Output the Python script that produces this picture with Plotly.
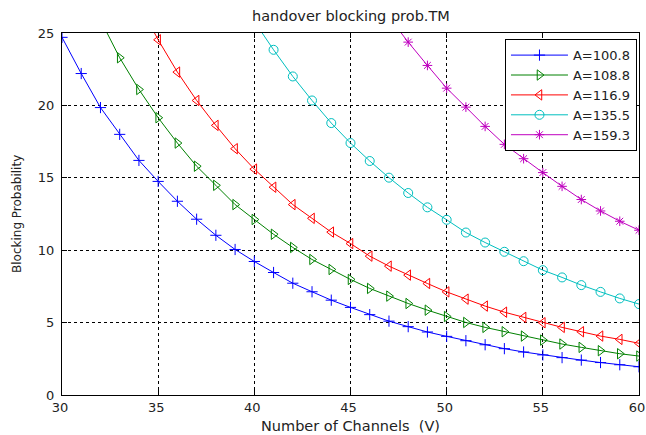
import plotly.graph_objects as go

channels = list(range(30, 61))

a1008 = [24.7, 22.2, 19.85, 18.0, 16.2, 14.75, 13.38, 12.14, 11.03, 10.05, 9.22,
         8.46, 7.72, 7.13, 6.55, 6.05, 5.55, 5.1, 4.72, 4.35, 4.05,
         3.75, 3.47, 3.2, 2.97, 2.77, 2.58, 2.41, 2.24, 2.09, 1.95]
a1088 = [None, None, 25.9, 23.29, 21.1, 19.15, 17.4, 15.8, 14.48, 13.15, 12.12,
         11.1, 10.19, 9.36, 8.67, 7.98, 7.36, 6.83, 6.32, 5.86, 5.42,
         5.01, 4.67, 4.37, 4.07, 3.79, 3.52, 3.29, 3.06, 2.85, 2.69]
a1169 = [None, None, None, None, 27.0, 24.53, 22.3, 20.34, 18.62, 17.01, 15.6,
         14.35, 13.15, 12.2, 11.25, 10.46, 9.59, 8.9, 8.28, 7.7, 7.12,
         6.62, 6.14, 5.72, 5.36, 4.99, 4.67, 4.37, 4.07, 3.84, 3.57]
a1355 = [None] * 10 + [25.8,
         23.84, 22.0, 20.34, 18.78, 17.4, 16.16, 15.01, 13.95, 12.96, 12.1,
         11.22, 10.53, 9.89, 9.24, 8.62, 8.12, 7.59, 7.12, 6.67, 6.28]
a1593 = [None] * 17 + [26.1, 24.37, 22.76, 21.19,
         19.88, 18.55, 17.31, 16.32, 15.36, 14.41, 13.5, 12.71, 12.0, 11.38]

series = [
    ("A=100.8", a1008, "#0000FF", "cross-thin-open", 8),
    ("A=108.8", a1088, "#008000", "triangle-right-open", 9),
    ("A=116.9", a1169, "#FF0000", "triangle-left-open", 9),
    ("A=135.5", a1355, "#00BFBF", "circle-open", 9),
    ("A=159.3", a1593, "#BF00BF", "asterisk-open", 8),
]

x_ticks = [30, 35, 40, 45, 50, 55, 60]
y_ticks = [0, 5, 10, 15, 20, 25]

fig = go.Figure()
for name, vals, col, sym, sz in series:
    fig.add_trace(go.Scatter(
        x=channels, y=vals, name=name, mode="lines+markers",
        line=dict(color=col, width=1),
        marker=dict(symbol=sym, size=sz, color=col, line=dict(color=col, width=1)),
    ))

FONT = "DejaVu Sans, Liberation Sans, Arial, sans-serif"
TXT = "#222"
axis_common = dict(
    showline=True, linecolor="black", linewidth=1, mirror="ticks",
    ticks="inside", ticklen=5, tickcolor="black",
    showgrid=True, gridcolor="black", gridwidth=1, griddash="3px,3px",
    zeroline=False, tickfont=dict(family=FONT, size=13, color=TXT),
    ticklabeloverflow="allow", automargin=False,
)
fig.update_xaxes(range=[30, 60], tickvals=x_ticks, ticklabelshift=-2, **axis_common)
fig.update_yaxes(range=[0, 25], tickvals=y_ticks, ticklabelstandoff=4, **axis_common)

fig.update_layout(
    width=646, height=435,
    margin=dict(l=62, r=7, t=33, b=40),
    plot_bgcolor="white", paper_bgcolor="white",
    font=dict(family=FONT, color=TXT),
    showlegend=True,
    legend=dict(
        x=0.9965, y=0.983, xanchor="right", yanchor="top",
        bgcolor="white", bordercolor="black", borderwidth=1,
        font=dict(family=FONT, size=13, color=TXT),
        itemwidth=57, tracegroupgap=0,
        entrywidth=106, entrywidthmode="pixels",
    ),
    annotations=[
        dict(text="handover blocking prob.TM", xref="paper", yref="paper",
             x=0.5, y=1, yshift=17, showarrow=False, yanchor="middle",
             font=dict(family=FONT, size=14.5, color=TXT)),
        dict(text="Number of Channels  (V)", xref="paper", yref="paper",
             x=0.5, y=0, yshift=-31, showarrow=False, yanchor="middle",
             font=dict(family=FONT, size=14.5, color=TXT)),
        dict(text="Blocking Probability", xref="paper", yref="paper",
             x=0, xshift=-45, y=0.5, textangle=-90, showarrow=False,
             xanchor="center", yanchor="middle",
             font=dict(family=FONT, size=12, color=TXT)),
    ],
)

fig.write_html("out.html")
